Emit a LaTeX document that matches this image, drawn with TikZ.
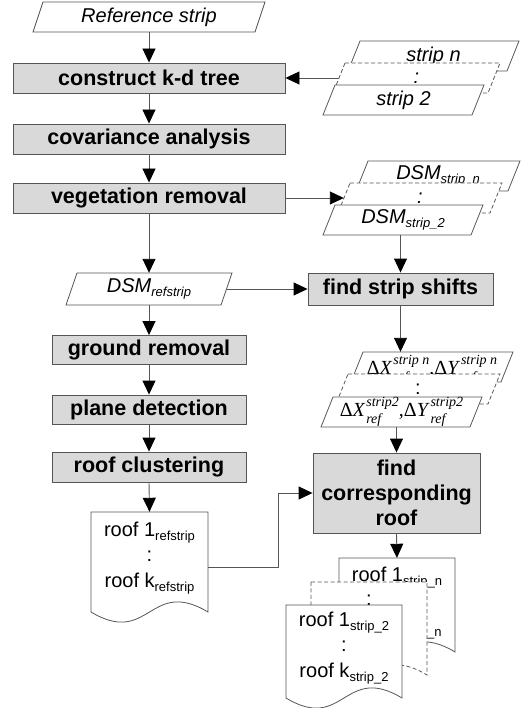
\documentclass[tikz,border=0pt]{standalone}
\usepackage{fontspec}
\setmainfont{Liberation Sans}
\newfontfamily\tnr{Liberation Serif}
\usetikzlibrary{arrows.meta}
\definecolor{boxgray}{RGB}{217,217,217}
\definecolor{edgegray}{RGB}{85,85,85}
\newcommand\sbs[1]{\raisebox{-0.22em}{\fontsize{13}{13}\selectfont #1}}
\newcommand\itf{\fontsize{20}{24}\selectfont\itshape}
\newcommand\rgf{\fontsize{20}{25.5}\selectfont}
\newcommand\supsub[2]{\setbox0\hbox{\raisebox{0.5em}{\fontsize{14}{14}\selectfont\itshape #1}}\setbox2\hbox{\raisebox{-0.38em}{\fontsize{14}{14}\selectfont\itshape #2}}\ifdim\wd0>\wd2 \rlap{\box2}\box0\else\rlap{\box0}\box2\fi}
\newcommand\dlt[2]{{\tnr\fontsize{20}{20}\selectfont Δ\textit{X}\kern0.8pt\supsub{#1}{#2},Δ\textit{Y}\kern0.8pt\supsub{#1}{#2}}}
% parallelogram: name, top-left x, top y, top-right x, height, slant, path style, text
\newcommand\paral[8]{%
  \filldraw[parashape,#7] (#2,#3) -- (#4,#3) -- ({#4-#6},{#3+#5}) -- ({#2-#6},{#3+#5}) -- cycle;
  \node[inner sep=0pt, minimum width={#4-#2+#6}, minimum height={#5}] (#1) at ({(#2+#4-#6)/2},{#3+#5/2}) {#8};}
% document: name, left x, top y, right x, bottom y, text centre y, path style, text
\newcommand\docu[8]{%
  \filldraw[parashape,#7] (#2,#3) -- (#4,#3) -- (#4,#5) .. controls ({(#2+#4)/2},{#5-35}) and ({(#2+#4)/2},{#5+35}) .. (#2,#5) -- cycle;
  \node[inner sep=0pt, minimum width={#4-#2}, minimum height={2*(#6-#3)}, font=\rgf, align=center] (#1) at ({(#2+#4)/2},#6) {#8};}
\tikzset{
  lin/.style={draw=edgegray, line width=0.9pt},
  arr/.style={lin, -{Triangle[length=14pt,width=13pt,color=black]}},
  proc/.style={draw=edgegray, fill=boxgray, line width=0.9pt, inner sep=0pt,
    font=\fontsize{21.5}{25}\selectfont\bfseries, align=center},
  parashape/.style={draw=edgegray, fill=white, line width=0.8pt},
  dashedge/.style={dash pattern=on 4pt off 2.5pt},
}
\begin{document}
\begin{tikzpicture}[x=1pt,y=-1pt]
\useasboundingbox (0,0) rectangle (524,708);
% left column
\paral{refstrip}{43}{2}{265}{30}{10}{}{\itf Reference strip}
\node[proc, minimum width=272, minimum height=30] (construct) at (149,78) {construct k-d tree};
\node[proc, minimum width=272, minimum height=30] (covar) at (149,139) {covariance analysis};
\node[proc, minimum width=272, minimum height=30] (veg) at (149,198) {vegetation removal};
\paral{dsmref}{77}{273}{232}{32}{11}{}{\itf DSM\sbs{refstrip}}
\node[proc, minimum width=194, minimum height=29] (ground) at (149,350) {ground removal};
\node[proc, minimum width=194, minimum height=29] (plane) at (149,409.5) {plane detection};
\node[proc, minimum width=194, minimum height=30] (cluster) at (149,467) {roof clustering};
\docu{refdoc}{91}{512}{208}{612}{558}{}{roof 1\sbs{refstrip}\\:\\roof k\sbs{refstrip}}
% strip stack
\paral{stripb}{360}{41}{519}{30}{12}{}{\itf strip n}
\paral{stripm}{345}{63}{500}{30}{12}{dashedge}{\itf :}
\paral{stripf}{335}{85}{484}{30}{12}{}{\itf strip 2}
% DSM stack
\paral{dsmb}{368}{161}{520}{30}{12}{}{\itf DSM\sbs{strip\_n}}
\paral{dsmm}{350}{183}{502}{30}{12}{dashedge}{\itf :}
\paral{dsmf}{335}{205}{483}{30}{12}{}{\itf DSM\sbs{strip\_2}}
% right column
\node[proc, minimum width=185, minimum height=32] (shift) at (400.5,289) {find strip shifts};
\paral{deltab}{363}{352}{513}{30}{12}{}{\smash{\raisebox{-7pt}{\dlt{strip n}{ref}}}}
\paral{deltam}{348}{374}{500}{30}{12}{dashedge}{\rgf :}
\paral{deltaf}{333}{397}{482}{30}{12}{}{\dlt{strip2}{ref}}
\node[proc, minimum width=167, minimum height=80] (findroof) at (396.5,493) {find\\corresponding\\roof};
\docu{docb}{339}{558}{455}{652}{603}{}{roof 1\sbs{strip\_n}\\:\\roof k\sbs{strip\_n}}
\docu{docm}{311}{582}{427}{675}{600}{dashedge}{:}
\docu{docf}{286}{605}{402}{698}{648}{}{roof 1\sbs{strip\_2}\\:\\roof k\sbs{strip\_2}}
% connectors
\draw[arr] (refstrip.south) -- (construct.north);
\draw[arr] ([xshift=6pt]stripm.west) -- (construct.east);
\draw[arr] (construct.south) -- (covar.north);
\draw[arr] (covar.south) -- (veg.north);
\draw[arr] (veg.east) -- ([xshift=6pt]dsmm.west);
\draw[arr] (veg.south) -- (dsmref.north);
\draw[arr] (shift.north |- dsmf.south) -- (shift.north);
\draw[arr] ([xshift=-5.5pt]dsmref.east) -- (shift.west);
\draw[arr] (shift.south) -- (shift.south |- deltab.north);
\draw[arr] (findroof.north |- deltaf.south) -- (findroof.north);
\draw[arr] (dsmref.south) -- (ground.north);
\draw[arr] (ground.south) -- (plane.north);
\draw[arr] (plane.south) -- (cluster.north);
\draw[arr] (cluster.south) -- (refdoc.north);
\draw[arr] ([yshift=-9pt]refdoc.east) -- ++(70,0) |- (findroof.west);
\draw[arr] (findroof.south) -- (docb.north);
\end{tikzpicture}
\end{document}
